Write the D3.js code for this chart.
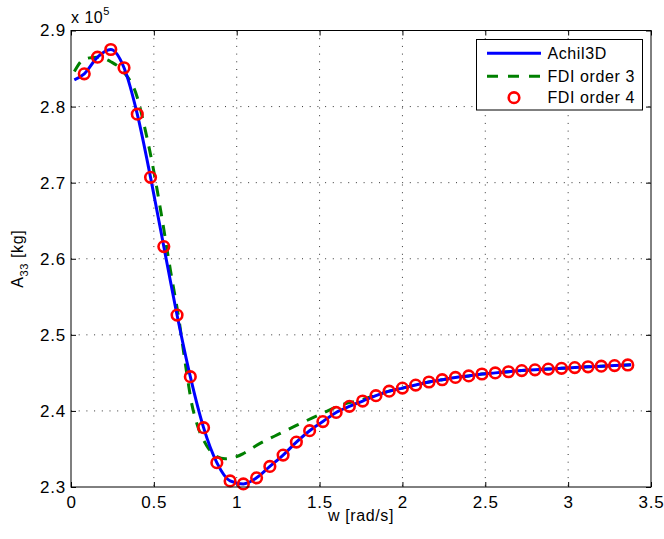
<!DOCTYPE html>
<html>
<head>
<meta charset="utf-8">
<script src="https://cdn.jsdelivr.net/npm/d3@7"></script>
<style>
  html, body { margin: 0; padding: 0; background: #fff; }
  text { font-family: "Liberation Sans", Arial, Helvetica, sans-serif; fill: #000; }
</style>
</head>
<body>
<svg id="chart" width="664" height="539"></svg>
<script>
// ---- data (values in units of 1e5 kg) ----
const seriesNames = ["Achil3D", "FDI order 3", "FDI order 4"];

const achilW = [0.02, 0.08, 0.16, 0.24, 0.32, 0.40, 0.48, 0.56, 0.64, 0.72, 0.80, 0.88, 0.96, 1.04, 1.12, 1.20, 1.28, 1.36, 1.44, 1.52, 1.60, 1.68, 1.76, 1.84, 1.92, 2.00, 2.08, 2.16, 2.24, 2.32, 2.40, 2.48, 2.56, 2.64, 2.72, 2.80, 2.88, 2.96, 3.04, 3.12, 3.20, 3.28, 3.36, 3.38];
const achilA = [2.835, 2.843, 2.865, 2.875, 2.851, 2.790, 2.707, 2.616, 2.526, 2.445, 2.378, 2.332, 2.308, 2.304, 2.312, 2.327, 2.342, 2.359, 2.374, 2.386, 2.398, 2.406, 2.413, 2.420, 2.426, 2.430, 2.434, 2.438, 2.441, 2.444, 2.446, 2.4485, 2.450, 2.4515, 2.453, 2.454, 2.455, 2.456, 2.457, 2.458, 2.4588, 2.4596, 2.4604, 2.4606];

const fdi3W = [0.02, 0.08, 0.16, 0.24, 0.32, 0.40, 0.44, 0.49, 0.55, 0.60, 0.65, 0.69, 0.73, 0.76, 0.82, 0.88, 0.93, 1.00, 1.04, 1.13, 1.23, 1.36, 1.50, 1.62, 1.76, 1.84, 1.92, 2.00, 2.08, 2.16, 2.24, 2.32, 2.40, 2.48, 2.56, 2.64, 2.72, 2.80, 2.88, 2.96, 3.04, 3.12, 3.20, 3.28, 3.38];
const fdi3A = [2.846, 2.8625, 2.865, 2.859, 2.845, 2.812, 2.777, 2.726, 2.652, 2.585, 2.522, 2.462, 2.408, 2.383, 2.354, 2.340, 2.337, 2.340, 2.344, 2.356, 2.367, 2.381, 2.395, 2.407, 2.415, 2.4205, 2.426, 2.430, 2.434, 2.438, 2.441, 2.444, 2.446, 2.4485, 2.450, 2.4515, 2.453, 2.454, 2.455, 2.456, 2.457, 2.458, 2.4588, 2.4596, 2.4606];

const fdi4W = [0.08, 0.16, 0.24, 0.32, 0.40, 0.48, 0.56, 0.64, 0.72, 0.80, 0.88, 0.96, 1.04, 1.12, 1.20, 1.28, 1.36, 1.44, 1.52, 1.60, 1.68, 1.76, 1.84, 1.92, 2.00, 2.08, 2.16, 2.24, 2.32, 2.40, 2.48, 2.56, 2.64, 2.72, 2.80, 2.88, 2.96, 3.04, 3.12, 3.20, 3.28, 3.36];
const fdi4A = [2.843, 2.865, 2.875, 2.851, 2.790, 2.707, 2.616, 2.526, 2.445, 2.378, 2.332, 2.308, 2.304, 2.312, 2.327, 2.342, 2.359, 2.374, 2.386, 2.398, 2.406, 2.413, 2.420, 2.426, 2.430, 2.434, 2.438, 2.441, 2.444, 2.446, 2.4485, 2.450, 2.4515, 2.453, 2.454, 2.455, 2.456, 2.457, 2.458, 2.4588, 2.4596, 2.4604];

const xTicks = [0, 0.5, 1, 1.5, 2, 2.5, 3, 3.5];
const xTickLabels = ["0", "0.5", "1", "1.5", "2", "2.5", "3", "3.5"];
const yTicks = [2.3, 2.4, 2.5, 2.6, 2.7, 2.8, 2.9];
const yTickLabels = ["2.3", "2.4", "2.5", "2.6", "2.7", "2.8", "2.9"];

// ---- layout ----
const svg = d3.select("#chart");
const L = 71, R = 651, T = 30.5, B = 487;
const x = d3.scaleLinear().domain([0, 3.5]).range([L, R]);
const y = d3.scaleLinear().domain([2.3, 2.9]).range([B, T]);

const blue = "#0000ff", green = "#008000", red = "#ff0000";

// grid
const grid = svg.append("g");
xTicks.slice(1, -1).forEach(t => {
  grid.append("line").attr("x1", x(t)).attr("x2", x(t)).attr("y1", T).attr("y2", B)
    .attr("stroke", "#333").attr("stroke-width", 1).attr("stroke-dasharray", "1,6.7");
});
yTicks.slice(1, -1).forEach(t => {
  grid.append("line").attr("x1", L).attr("x2", R).attr("y1", y(t)).attr("y2", y(t))
    .attr("stroke", "#333").attr("stroke-width", 1).attr("stroke-dasharray", "1,6.7");
});

// axes (ticks inward)
const fs = "17px";
const xAxis = d3.axisBottom(x).tickValues(xTicks).tickFormat((d, i) => xTickLabels[i]).tickSizeInner(-5).tickSizeOuter(0).tickPadding(9);
const yAxis = d3.axisLeft(y).tickValues(yTicks).tickFormat((d, i) => yTickLabels[i]).tickSizeInner(-5).tickSizeOuter(0).tickPadding(5);
const xAxisTop = d3.axisTop(x).tickValues(xTicks).tickFormat("").tickSizeInner(-5).tickSizeOuter(0);
const yAxisRight = d3.axisRight(y).tickValues(yTicks).tickFormat("").tickSizeInner(-5).tickSizeOuter(0);

function styleAxis(g) {
  g.attr("font-size", fs).attr("font-family", "'Liberation Sans', Arial, sans-serif");
  g.select(".domain").remove();
  g.selectAll(".tick line").attr("stroke", "#000");
  g.selectAll(".tick text").attr("font-size", fs).attr("letter-spacing", "0.8px").attr("fill", "#000");
}
svg.append("g").attr("transform", `translate(0,${B})`).call(xAxis).call(styleAxis);
svg.append("g").attr("transform", `translate(${L},0)`).call(yAxis).call(styleAxis);
svg.append("g").attr("transform", `translate(0,${T})`).call(xAxisTop).call(styleAxis);
svg.append("g").attr("transform", `translate(${R},0)`).call(yAxisRight).call(styleAxis);

const plot = svg.append("g");

const lineGen = d3.line().x(d => x(d[0])).y(d => y(d[1])).curve(d3.curveMonotoneX);

// FDI order 3 (green dashed)
plot.append("path")
  .datum(fdi3W.map((w, i) => [w, fdi3A[i]]))
  .attr("d", lineGen).attr("fill", "none")
  .attr("stroke", green).attr("stroke-width", 3).attr("stroke-dasharray", "11,9");

// Achil3D (blue)
plot.append("path")
  .datum(achilW.map((w, i) => [w, achilA[i]]))
  .attr("d", lineGen).attr("fill", "none")
  .attr("stroke", blue).attr("stroke-width", 3);

// FDI order 4 (red circles)
plot.selectAll("circle.m").data(fdi4W.map((w, i) => [w, fdi4A[i]])).enter()
  .append("circle").attr("class", "m")
  .attr("cx", d => x(d[0])).attr("cy", d => y(d[1])).attr("r", 5.3)
  .attr("fill", "none").attr("stroke", red).attr("stroke-width", 2.6);

// box
svg.append("rect").attr("x", L).attr("y", T).attr("width", R - L).attr("height", B - T)
  .attr("fill", "none").attr("stroke", "#000").attr("stroke-width", 1);

// exponent label
const ex = svg.append("text").attr("x", 71).attr("y", 23).attr("font-size", "16px").attr("letter-spacing", "0.5px");
ex.append("tspan").text("x 10");
ex.append("tspan").attr("dy", -8).attr("font-size", "11px").text("5");

// axis labels
svg.append("text").attr("x", (L + R) / 2).attr("y", 521).attr("text-anchor", "middle")
  .attr("font-size", "16px").attr("letter-spacing", "0.6px").text("w [rad/s]");

const yl = svg.append("text").attr("transform", `translate(23,${(T + B) / 2}) rotate(-90)`)
  .attr("text-anchor", "middle").attr("font-size", "16px").attr("letter-spacing", "0.6px");
yl.append("tspan").text("A");
yl.append("tspan").attr("font-size", "11px").attr("dy", 5).text("33");
yl.append("tspan").attr("dy", -5).text(" [kg]");

// legend
const lg = svg.append("g");
lg.append("rect").attr("x", 476.5).attr("y", 39.5).attr("width", 166).attr("height", 70.5)
  .attr("fill", "#fff").attr("stroke", "#000").attr("stroke-width", 1);
const rows = [53.3, 76.3, 97.7];
lg.append("line").attr("x1", 487).attr("x2", 541).attr("y1", rows[0]).attr("y2", rows[0])
  .attr("stroke", blue).attr("stroke-width", 3);
lg.append("line").attr("x1", 487).attr("x2", 541).attr("y1", rows[1]).attr("y2", rows[1])
  .attr("stroke", green).attr("stroke-width", 3).attr("stroke-dasharray", "11,10");
lg.append("circle").attr("cx", 514).attr("cy", rows[2]).attr("r", 5.3)
  .attr("fill", "none").attr("stroke", red).attr("stroke-width", 2.6);
seriesNames.forEach((n, i) => {
  lg.append("text").attr("x", 547.5).attr("y", rows[i] + 5.5).attr("font-size", "16px")
    .attr("letter-spacing", "0.6px").text(n);
});
</script>
</body>
</html>
